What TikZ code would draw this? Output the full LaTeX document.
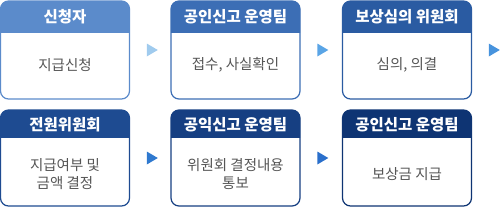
\documentclass[tikz,border=0pt]{standalone}
\usepackage{fontspec}
\setmainfont{Noto Sans CJK KR}
\usetikzlibrary{shapes.geometric,calc}

\definecolor{headA}{HTML}{5B8BCB}
\definecolor{headB}{HTML}{3C6EB5}
\definecolor{headC}{HTML}{2A5BA2}
\definecolor{headD}{HTML}{1E4B91}
\definecolor{headE}{HTML}{163F82}
\definecolor{headF}{HTML}{0E3473}
\definecolor{arrA}{HTML}{A0CBEE}
\definecolor{arrB}{HTML}{5AA5E6}
\definecolor{arrC}{HTML}{4793DD}
\definecolor{arrD}{HTML}{2F79CF}
\definecolor{arrE}{HTML}{2A6FCB}
\definecolor{bodygray}{HTML}{555555}

\begin{document}
\begin{tikzpicture}[
  x=1pt, y=-1pt,
  stagebox/.style={draw, fill=white, rounded corners=8pt, line width=1.2pt, minimum width=129pt, inner sep=0pt, outer sep=0pt},
  headtext/.style={text=white, font=\fontsize{15.5}{18}\selectfont\bfseries},
  bodytext/.style={text=bodygray, font=\fontsize{14.5}{18}\selectfont, align=center},
  tri/.style={isosceles triangle, isosceles triangle stretches, inner sep=0pt, minimum width=13pt, minimum height=11pt}
]
\useasboundingbox (0,0) rectangle (502,210);

% boxes
\node[stagebox, draw=headA, minimum height=98pt] (s1) at (65,50) {};
\node[stagebox, draw=headB, minimum height=98pt] (s2) at (235.5,50) {};
\node[stagebox, draw=headC, minimum height=98pt] (s3) at (407,50) {};
\node[stagebox, draw=headD, minimum height=96pt] (s4) at (65,158) {};
\node[stagebox, draw=headE, minimum height=96pt] (s5) at (235.5,158) {};
\node[stagebox, draw=headF, minimum height=96pt] (s6) at (407,158) {};

% header bands
\foreach \s/\c/\hh in {s1/headA/31, s2/headB/31, s3/headC/31, s4/headD/27, s5/headE/27, s6/headF/27} {
  \begin{scope}
    \clip (\s.north west) rectangle ($(\s.north east)+(0,\hh)$);
    \fill[\c, rounded corners=8pt] (\s.north west) rectangle (\s.south east);
  \end{scope}
}

% titles
\node[headtext] (t1) at ($(s1.north)+(0,16)$) {신청자};
\node[headtext] (t2) at ($(s2.north)+(0,16)$) {공인신고 운영팀};
\node[headtext] (t3) at ($(s3.north)+(0,16)$) {보상심의 위원회};
\node[headtext] (t4) at ($(s4.north)+(0,15)$) {전원위원회};
\node[headtext] (t5) at ($(s5.north)+(0,15)$) {공익신고 운영팀};
\node[headtext] (t6) at ($(s6.north)+(0,15)$) {공인신고 운영팀};

% contents
\node[bodytext] (b1) at ($(s1.north)+(0,64)$) {지급신청};
\node[bodytext] (b2) at ($(s2.north)+(0,64)$) {접수, 사실확인};
\node[bodytext] (b3) at ($(s3.north)+(0,64)$) {심의, 의결};
\node[bodytext] (b4) at ($(s4.north)+(0,64)$) {지급여부 및\\금액 결정};
\node[bodytext] (b5) at ($(s5.north)+(0,64)$) {위원회 결정내용\\통보};
\node[bodytext] (b6) at ($(s6.north)+(0,64)$) {보상금 지급};

% arrows
\node[tri, fill=arrA] (a1) at ($(s1.east)+(21,0)$) {};
\node[tri, fill=arrB] (a2) at ($(s2.east)+(21,0)$) {};
\node[tri, fill=arrC] (a3) at ($(s3.east)+(21,0)$) {};
\node[tri, fill=arrD] (a4) at ($(s4.east)+(21,0)$) {};
\node[tri, fill=arrE] (a5) at ($(s5.east)+(21,0)$) {};

\end{tikzpicture}
\end{document}
